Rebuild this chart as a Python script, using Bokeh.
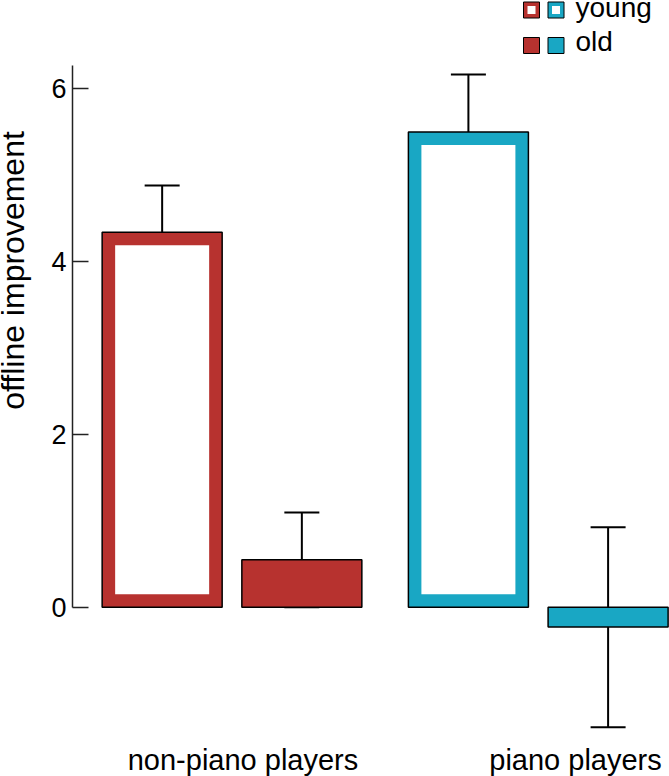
import numpy as np
from bokeh.plotting import figure
from bokeh.models import ColumnDataSource, Whisker, TeeHead, Label, FixedTicker
from bokeh.embed import file_html
from bokeh.resources import INLINE

# ---- data ----
groups = ["non-piano players", "piano players"]
young_vals = [4.34, 5.50]
young_err_up = [0.54, 0.665]
young_err_down = [0.54, 0.735]
old_vals = [0.55, -0.23]
old_err_up = [0.545, 1.156]
old_err_down = [0.55, 1.16]
series_labels = ["young", "old"]
y_label = "offline improvement"
y_ticks = [0, 2, 4, 6]

RED = "#b7322f"
CYAN = "#19a7c4"
FONT = "Liberation Sans"

# ---- layout constants (frame = whole canvas) ----
W, H = 669, 776
XPX = 306.25          # px per x unit (group spacing)
YPX = 86.4            # px per y unit
GROUP0_PX = 231.5     # pixel of first group centre
ZERO_PX = 606.7       # pixel of y = 0
x_start = -GROUP0_PX / XPX
x_end = x_start + W / XPX
y_end = ZERO_PX / YPX
y_start = y_end - H / YPX

off = 139.7 / 2 / XPX
bw = 120 / XPX
band_x = 13 / XPX
band_y = 13 / YPX
label_px = [242.5, 575.0]        # category label centres (px)

def sx(px):
    return x_start + px / XPX

def sy(py):
    return y_end - py / YPX

p = figure(width=W, height=H, x_range=(x_start, x_end), y_range=(y_start, y_end),
           output_backend="svg", toolbar_location=None,
           min_border_left=0, min_border_right=0, min_border_top=0, min_border_bottom=0)
p.outline_line_color = None
p.xgrid.visible = False
p.ygrid.visible = False
p.xaxis.visible = False
p.background_fill_color = "white"
p.border_fill_color = "white"

gx = np.arange(len(groups), dtype=float)
yx = gx - off
ox = gx + off
young_vals_a = np.array(young_vals)
old_vals_a = np.array(old_vals)

# young bars: coloured outer, white inner
p.vbar(x=yx, top=young_vals_a, bottom=0, width=bw, fill_color=[RED, CYAN],
       line_color="black", line_width=1.5)
p.vbar(x=yx, top=young_vals_a - band_y, bottom=band_y, width=bw - 2 * band_x,
       fill_color="white", line_color=None)
# old bars
p.vbar(x=ox, top=old_vals_a, bottom=0, width=bw, fill_color=[RED, CYAN],
       line_color="black", line_width=1.5)

# error bars
def add_whisker(xs, vals, up, down):
    src = ColumnDataSource(dict(x=xs, upper=np.array(vals) + np.array(up),
                                lower=np.array(vals) - np.array(down)))
    w = Whisker(base="x", upper="upper", lower="lower", source=src,
                line_color="black", line_width=2,
                upper_head=TeeHead(size=35, line_color="black", line_width=2),
                lower_head=TeeHead(size=35, line_color="black", line_width=2))
    p.add_layout(w)

add_whisker(yx, young_vals, young_err_up, young_err_down)
add_whisker(ox, old_vals, old_err_up, old_err_down)

# y axis, drawn inside the canvas at a fixed x position
ax = p.yaxis[0]
ax.fixed_location = sx(72)
ax.ticker = FixedTicker(ticks=y_ticks)
ax.bounds = (0, 6.27)
ax.major_tick_in = 16
ax.major_tick_out = 0
ax.minor_tick_line_color = None
ax.axis_line_width = 1.5
ax.major_tick_line_width = 1.5
ax.axis_line_color = "#222222"
ax.major_tick_line_color = "#222222"
ax.major_label_text_font = FONT
ax.major_label_text_font_size = "27px"
ax.major_label_text_color = "black"
ax.major_label_standoff = 6

# y label
p.add_layout(Label(x=sx(12.5), y=sy(270), text=y_label, angle=np.pi / 2,
                   text_align="center", text_baseline="alphabetic",
                   text_font=FONT, text_font_size="32px", text_color="black"))

# category labels
for name, lp in zip(groups, label_px):
    p.add_layout(Label(x=sx(lp), y=sy(759), text=name, text_align="center",
                       text_baseline="alphabetic", text_font=FONT,
                       text_font_size="29px", text_color="black"))

# legend (manual, two squares per row)
rows_center = [9.5, 45]
rows_base = [7, 41]
for lab, rc, rb in zip(series_labels, rows_center, rows_base):
    for col, cx in zip([RED, CYAN], [531, 555.5]):
        p.scatter(x=[sx(cx)], y=[sy(rc)], marker="square", size=16,
                  fill_color=col, line_color="black", line_width=1)
        if lab == "young":
            p.scatter(x=[sx(cx)], y=[sy(rc)], marker="square", size=8,
                      fill_color="white", line_color=None)
    p.add_layout(Label(x=sx(575), y=sy(rb), text=lab, text_align="left",
                       text_baseline="alphabetic", text_font=FONT,
                       text_font_size="28px", text_color="black"))

open("out.html", "w").write(file_html(p, INLINE))
